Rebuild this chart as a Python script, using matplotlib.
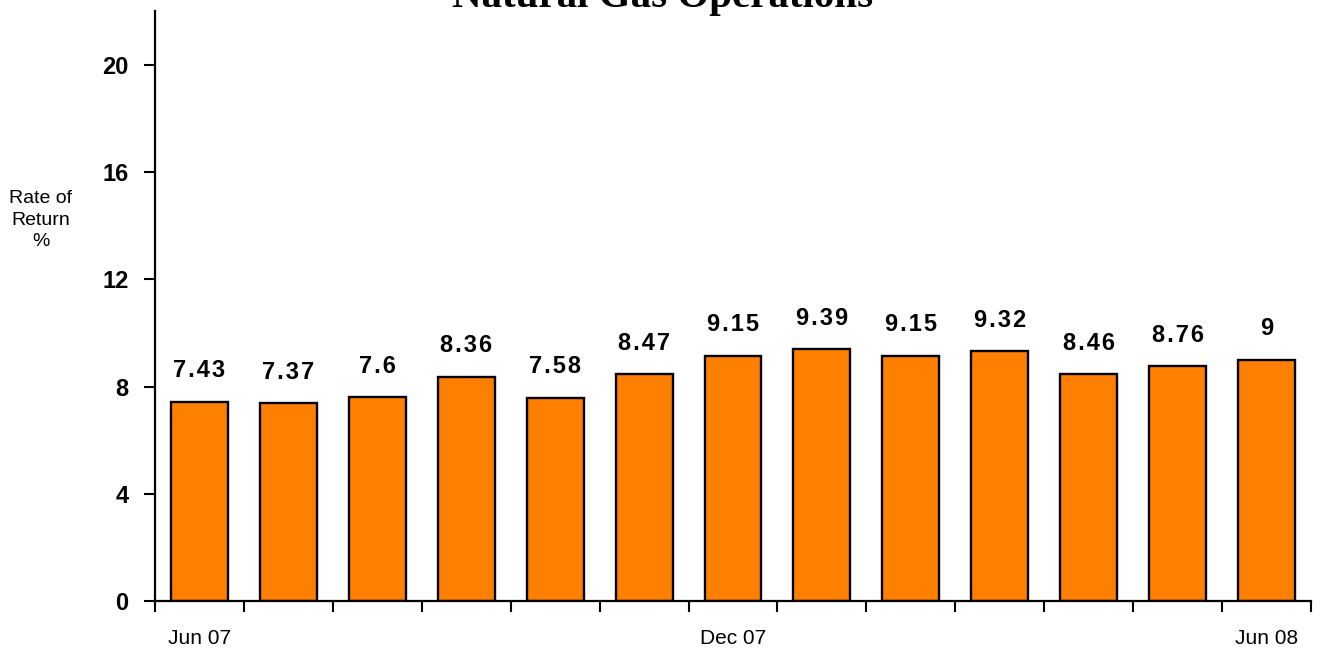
import numpy as np
import matplotlib.pyplot as plt

# data
months = ['Jun 07', 'Jul 07', 'Aug 07', 'Sep 07', 'Oct 07', 'Nov 07', 'Dec 07',
          'Jan 08', 'Feb 08', 'Mar 08', 'Apr 08', 'May 08', 'Jun 08']
ror = [7.43, 7.37, 7.6, 8.36, 7.58, 8.47, 9.15, 9.39, 9.15, 9.32, 8.46, 8.76, 9]
shown = ['Jun 07', 'Dec 07', 'Jun 08']

plt.rcParams['font.family'] = ['Liberation Sans', 'DejaVu Sans']

fig = plt.figure(figsize=(13.22, 6.49), dpi=100)
ax = fig.add_axes([0.1172, 0.074, 0.8745, 0.9085])

x = np.arange(len(months))
bars = ax.bar(x, ror, width=0.64, color='#FF8000', edgecolor='black', linewidth=1.7)
for b, v in zip(bars, ror):
    # spaced digits like the original
    ax.annotate('\u200a'.join('%g' % v), (b.get_x() + b.get_width() / 2, v), xytext=(0, 14),
                textcoords='offset points', ha='center', va='bottom',
                fontsize=17, fontweight='bold')

ax.set_xlim(-0.5, len(months) - 0.5)
ax.set_ylim(0, 22)
ax.set_yticks([0, 4, 8, 12, 16, 20])
ax.tick_params(axis='y', direction='out', length=8, width=1.5, pad=11, labelsize=17)
for t in ax.get_yticklabels():
    t.set_fontweight('bold')

ax.set_xticks([months.index(m) for m in shown])
ax.set_xticklabels(shown, fontsize=15)
ax.set_xticks(np.arange(-0.5, len(months)), minor=True)
ax.tick_params(axis='x', which='major', length=0, pad=20)
ax.tick_params(axis='x', which='minor', direction='out', length=8, width=1.5)

for s in ['top', 'right']:
    ax.spines[s].set_visible(False)
for s in ['left', 'bottom']:
    ax.spines[s].set_linewidth(1.6)

fig.text(0.031, 0.661, 'Rate of\nReturn\n%', ha='center', va='center',
         multialignment='center', fontsize=14, linespacing=1.35)
fig.text(0.501, 0.9885, 'Natural Gas Operations', ha='center', va='baseline',
         fontsize=29.5, fontweight='bold', family='Liberation Serif')

fig.savefig('out.png', dpi=100)
